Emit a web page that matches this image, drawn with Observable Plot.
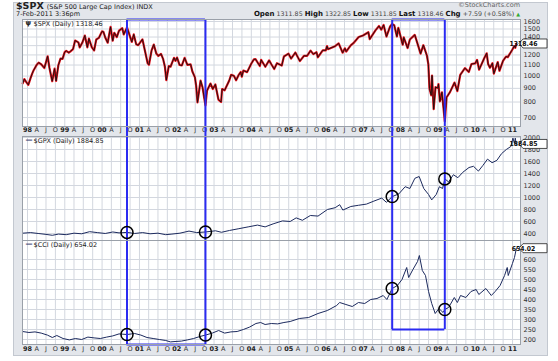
<!DOCTYPE html>
<html><head><meta charset="utf-8">
<script src="https://cdn.jsdelivr.net/npm/d3@7"></script>
<script src="https://cdn.jsdelivr.net/npm/@observablehq/plot@0.6"></script>
<style>
html,body{margin:0;padding:0;background:#fff;}
#wrap{position:relative;width:558px;height:361px;font-family:"DejaVu Sans",Verdana,sans-serif;overflow:hidden;}
#frame{position:absolute;left:13px;top:2px;width:533px;height:352px;background:#e3e6eb;border:1px solid #c3c8d0;}
.txt{position:absolute;white-space:nowrap;color:#222;line-height:1;}
.panel{position:absolute;left:0;}
.panel svg{display:block;overflow:visible;}
</style></head>
<body><div id="wrap"><div id="frame"></div>
<div class="txt" style="left:16px;top:1px;font-size:9.5px;"><b>$SPX</b> <span style="font-size:6.5px">(S&amp;P 500 Large Cap Index) INDX</span></div>
<div class="txt" style="left:16px;top:11px;font-size:6.5px;">7-Feb-2011 3:36pm</div>
<div class="txt" style="right:38px;top:2px;font-size:6.5px;color:#666;">&#169;StockCharts.com</div>
<div class="txt" style="right:38px;top:11px;font-size:6.3px;color:#444;"><b style="color:#111;font-size:7px">Open</b> 1311.85 <b style="color:#111;font-size:7px">High</b> 1322.85 <b style="color:#111;font-size:7px">Low</b> 1311.85 <b style="color:#111;font-size:7px">Last</b> 1318.46 <b style="color:#111;font-size:7px">Chg</b> +7.59 (+0.58%) <span style="color:#3a3;font-size:5px">&#9650;</span></div>
<div class="panel" id="pA" style="top:19px"></div>
<div class="panel" id="pB" style="top:136px"></div>
<div class="panel" id="pC" style="top:240px"></div>
</div>
<script>
const spxDates = ["1997-11-15","1997-12-01","1997-12-20","1998-01-09","1998-01-30","1998-02-15","1998-03-01","1998-03-31","1998-04-20","1998-05-15","1998-06-15","1998-07-17","1998-08-04","1998-08-31","1998-09-23","1998-10-08","1998-10-30","1998-11-20","1998-12-10","1998-12-31","1999-01-15","1999-02-09","1999-02-26","1999-03-23","1999-04-12","1999-05-14","1999-05-27","1999-06-22","1999-07-16","1999-08-10","1999-08-25","1999-09-23","1999-10-15","1999-11-05","1999-11-30","1999-12-31","2000-01-14","2000-02-01","2000-02-25","2000-03-24","2000-04-14","2000-04-30","2000-05-24","2000-06-15","2000-07-17","2000-07-31","2000-09-01","2000-09-25","2000-10-18","2000-11-06","2000-11-30","2000-12-20","2001-01-30","2001-02-22","2001-03-22","2001-04-04","2001-04-30","2001-05-21","2001-06-15","2001-07-05","2001-07-31","2001-08-20","2001-09-07","2001-09-21","2001-10-15","2001-11-01","2001-12-05","2001-12-20","2002-01-04","2002-01-29","2002-02-20","2002-03-19","2002-04-15","2002-05-17","2002-06-03","2002-06-28","2002-07-10","2002-07-23","2002-08-22","2002-09-10","2002-09-30","2002-10-09","2002-10-24","2002-11-27","2002-12-20","2003-01-14","2003-02-13","2003-03-11","2003-03-21","2003-04-15","2003-05-30","2003-06-17","2003-07-14","2003-08-05","2003-08-29","2003-09-19","2003-09-30","2003-10-15","2003-11-21","2003-12-31","2004-01-26","2004-02-11","2004-03-24","2004-04-06","2004-05-17","2004-06-23","2004-07-15","2004-08-12","2004-09-08","2004-10-25","2004-11-15","2004-12-30","2005-01-24","2005-03-07","2005-04-20","2005-05-31","2005-06-30","2005-08-03","2005-08-30","2005-09-30","2005-10-13","2005-11-30","2005-12-30","2006-01-11","2006-01-20","2006-03-31","2006-05-05","2006-06-13","2006-07-05","2006-07-18","2006-08-31","2006-10-02","2006-11-17","2006-12-29","2007-02-20","2007-03-05","2007-04-30","2007-06-04","2007-06-26","2007-07-19","2007-08-16","2007-09-19","2007-10-09","2007-10-31","2007-11-26","2007-12-10","2008-01-22","2008-02-01","2008-03-10","2008-04-01","2008-05-19","2008-06-27","2008-07-15","2008-08-11","2008-09-15","2008-09-29","2008-10-10","2008-10-27","2008-11-04","2008-11-20","2008-12-08","2008-12-31","2009-01-06","2009-01-20","2009-02-09","2009-03-09","2009-03-26","2009-04-30","2009-06-12","2009-07-10","2009-08-07","2009-09-22","2009-10-30","2009-11-25","2009-12-31","2010-01-19","2010-02-08","2010-03-31","2010-04-23","2010-05-07","2010-05-25","2010-06-18","2010-07-02","2010-08-09","2010-08-26","2010-09-30","2010-10-29","2010-11-16","2010-12-31","2011-01-18","2011-01-28","2011-02-07"];
const spxValues = [940,975,950,927,980,1020,1050,1101,1123,1108,1072,1186,1072,957,1066,959,1098,1163,1160,1229,1243,1223,1238,1262,1358,1337,1281,1335,1418,1281,1381,1280,1247,1370,1389,1469,1465,1394,1333,1527,1356,1452,1399,1478,1510,1431,1520,1427,1342,1432,1315,1305,1373,1252,1117,1103,1249,1312,1214,1190,1211,1160,1085,966,1090,1084,1170,1140,1173,1100,1096,1170,1102,1106,1040,989,920,797,962,909,815,777,882,938,895,931,817,800,895,885,963,1011,1003,965,1008,1036,995,1049,1035,1112,1155,1157,1091,1150,1084,1145,1107,1063,1117,1095,1184,1213,1163,1225,1138,1191,1191,1245,1208,1228,1176,1249,1248,1294,1261,1294,1325,1223,1270,1236,1303,1335,1401,1418,1459,1374,1482,1539,1492,1553,1406,1529,1565,1549,1407,1515,1310,1395,1273,1370,1426,1278,1214,1305,1192,1106,899,848,1005,752,909,903,934,805,870,677,832,873,946,879,1010,1071,1036,1110,1115,1150,1057,1169,1217,1110,1074,1117,1022,1128,1047,1141,1183,1178,1258,1295,1276,1318.46];

const gpxDates = ["1997-11-15","1998-02-01","1998-04-15","1998-07-01","1998-09-01","1998-11-01","1999-01-15","1999-04-01","1999-06-15","1999-09-01","1999-11-15","2000-02-01","2000-04-15","2000-06-15","2000-09-01","2000-11-15","2001-02-01","2001-04-15","2001-07-01","2001-09-15","2001-11-15","2002-02-01","2002-05-01","2002-07-15","2002-10-09","2003-01-15","2003-03-15","2003-06-01","2003-09-01","2003-12-01","2004-03-01","2004-05-15","2004-08-01","2004-11-01","2005-01-15","2005-03-15","2005-05-15","2005-08-01","2005-10-15","2006-01-15","2006-04-01","2006-05-15","2006-06-15","2006-09-01","2006-11-15","2007-02-01","2007-04-15","2007-07-01","2007-08-15","2007-10-11","2007-12-15","2008-02-15","2008-04-01","2008-05-20","2008-07-01","2008-08-15","2008-10-01","2008-11-01","2008-12-15","2009-01-15","2009-02-15","2009-03-09","2009-04-15","2009-06-01","2009-07-15","2009-09-01","2009-11-01","2009-12-15","2010-02-01","2010-03-15","2010-05-01","2010-06-15","2010-08-01","2010-09-15","2010-11-01","2010-12-15","2011-01-05","2011-01-20","2011-01-28","2011-02-07"];
const gpxValues = [405,415,400,385,370,390,380,405,395,430,415,400,425,410,418,400,415,395,405,380,390,405,440,415,425,445,420,450,480,510,540,510,560,610,600,660,620,700,690,800,830,880,790,850,870,890,940,990,920,1015,1060,1180,1150,1320,1350,1150,1050,960,1050,1180,1150,1310,1260,1380,1330,1420,1500,1520,1440,1530,1640,1580,1620,1730,1800,1850,1990,1900,1990,1884.85];

const cciDates = ["1997-11-15","1998-01-15","1998-03-15","1998-05-15","1998-07-15","1998-09-01","1998-10-15","1998-12-15","1999-02-15","1999-04-15","1999-06-15","1999-08-15","1999-10-15","1999-12-15","2000-02-15","2000-04-15","2000-06-15","2000-09-01","2000-11-15","2001-01-15","2001-03-15","2001-05-15","2001-07-15","2001-09-15","2001-11-01","2001-12-15","2002-02-15","2002-04-15","2002-06-15","2002-08-15","2002-10-09","2002-12-15","2003-02-15","2003-04-15","2003-06-15","2003-08-15","2003-10-15","2003-12-15","2004-02-15","2004-04-01","2004-05-15","2004-07-15","2004-09-15","2004-11-15","2005-01-15","2005-04-15","2005-07-15","2005-10-15","2006-01-15","2006-04-15","2006-05-15","2006-07-15","2006-09-15","2006-11-15","2007-01-15","2007-03-15","2007-05-15","2007-07-15","2007-08-20","2007-10-11","2007-12-01","2008-01-15","2008-03-01","2008-03-20","2008-05-01","2008-06-15","2008-07-03","2008-08-01","2008-09-01","2008-10-01","2008-11-01","2008-12-05","2009-01-10","2009-02-20","2009-03-09","2009-04-15","2009-06-10","2009-07-10","2009-08-10","2009-10-01","2009-11-20","2010-01-10","2010-02-05","2010-04-15","2010-06-07","2010-07-15","2010-09-01","2010-10-15","2010-11-10","2010-11-20","2010-12-31","2011-01-20","2011-02-07"];
const cciValues = [240,235,238,232,222,210,220,205,198,205,200,212,208,205,212,218,228,225,230,222,210,205,200,195,188,190,192,198,205,215,222,232,245,232,238,240,250,262,280,285,275,280,278,285,290,305,310,330,345,370,385,375,365,385,380,400,405,420,400,455,470,500,560,510,550,590,620,545,520,440,380,330,355,335,350,360,410,385,420,410,440,450,425,455,420,440,470,520,560,520,580,610,654.02];

const yearLabels = ["98","99","00","01","02","03","04","05","06","07","08","09","10","11"];
const monthLabels = ["A","J","O"];
const spxGridTicks = [700,800,900,1000,1100,1200,1300,1400,1500,1600];
const spxTicks = [700,800,900,1000,1100,1200,1400,1500,1600];
const gpxTicks = [400,600,800,1000,1200,1400,1600,1800,2000];
const cciTicks = [200,250,300,350,400,450,500,550,600];
const boxDates = ["2000-09-01","2002-10-09","2007-10-11","2009-03-09"];
const gpxCircleValues = [418,425,1015,1310];
const cciCircleValues = [225,222,455,350];
const rect2BottomCCI = 250;

const P = s => new Date(s);
const spx = spxDates.map((d,i)=>({date:P(d), value:spxValues[i]}));
const gpx = gpxDates.map((d,i)=>({date:P(d), value:gpxValues[i]}));
const cci = cciDates.map((d,i)=>({date:P(d), value:cciValues[i]}));
const years = yearLabels.map((l,i)=>({date:new Date(Date.UTC(1998+i,0,1)), label:l}));
const months = [];
for (let i=0;i<13;i++) monthLabels.forEach((m,j)=>months.push({date:new Date(Date.UTC(1998+i,3+3*j,1)), label:m}));
const quarters = years.concat(months).map(d=>d.date);
const bd = boxDates.map(P);
const gpxCircles = bd.map((d,i)=>({date:d, value:gpxCircleValues[i]}));
const cciCircles = bd.map((d,i)=>({date:d, value:cciCircleValues[i]}));

const BLUE = "#2b2bf2", GRID = "#d3d7df", FRAME = "#9aa0a9";
const FONT = "DejaVu Sans, Verdana, sans-serif";
const xDomain = [new Date(Date.UTC(1997,10,13)), new Date(Date.UTC(2011,2,20))];
const base = {width:558, marginLeft:22, marginRight:38,
  x:{type:"utc", domain:xDomain, axis:null},
  style:{fontFamily:FONT, background:"transparent", overflow:"visible"}};

function common(gridTicks, labelTicks){
  return [
    Plot.frame({fill:"white", stroke:"none"}),
    Plot.gridX(quarters, {stroke:GRID, strokeOpacity:1}),
    Plot.gridY(gridTicks, {stroke:GRID, strokeOpacity:1}),
    Plot.text(labelTicks, {y:d=>d, text:d=>String(d), frameAnchor:"right", dx:3, textAnchor:"start", fontSize:6.5, fill:"#333"})
  ];
}
function dateLabels(dy){
  return [
    Plot.text(years, {x:"date", text:"label", frameAnchor:"bottom", dy, fontWeight:"bold", fontSize:6.5, fill:"#222"}),
    Plot.text(months, {x:"date", text:"label", frameAnchor:"bottom", dy, fontSize:6.5, fill:"#333"})
  ];
}
function legend(label, dash, color){
  const m = [Plot.text([label], {frameAnchor:"top-left", dx:11, dy:2, textAnchor:"start", lineAnchor:"top", fontSize:6.5, fill:"#222"})];
  m.push(Plot.text([dash], {frameAnchor:"top-left", dx:3, dy:1, textAnchor:"start", lineAnchor:"top", fontSize:7, fill:color, fontWeight:"bold"}));
  return m;
}
function valueBox(chart, value, label){
  const y = chart.scale("y").apply(value);
  const x = 520;
  const g = d3.select(chart).append("g");
  g.append("path").attr("d", `M${x-1},${y} L${x+3},${y-4.5} L${x+27},${y-4.5} L${x+27},${y+4.5} L${x+3},${y+4.5} Z`)
    .attr("fill","white").attr("stroke","#222").attr("stroke-width",0.8);
  g.append("text").attr("x", x+3.5).attr("y", y).attr("dy","0.35em")
    .attr("font-size",6.8).attr("font-family","DejaVu Sans Condensed, DejaVu Sans, sans-serif").attr("font-weight","bold").attr("fill","#111").text(label);
}

// Panel A: SPX
const spxDom = [648,1628];
const chartA = Plot.plot({...base, height:117, marginTop:0, marginBottom:10,
  y:{type:"log", domain:spxDom, axis:null},
  marks:[
    ...common(spxGridTicks, spxTicks),
    ...dateLabels(5),
    Plot.line(spx, {x:"date", y:"value", stroke:"#e8101a", strokeWidth:2.2}),
    Plot.line(spx, {x:"date", y:"value", stroke:"#111", strokeWidth:0.9}),
    Plot.ruleX(bd, {stroke:BLUE, strokeWidth:2, insetBottom:-10}),
    Plot.ruleY([{y:spxDom[1], x1:bd[0], x2:bd[1]},{y:spxDom[1], x1:bd[2], x2:bd[3]}], {y:"y", x1:"x1", x2:"x2", stroke:BLUE, strokeWidth:2}),
    ...legend("$SPX (Daily) 1318.46", "\u03C8", "#222"),
    Plot.frame({stroke:FRAME})
  ]});
valueBox(chartA, spxValues[spxValues.length-1], "1318.46");
document.getElementById("pA").append(chartA);

// Panel B: GPX
const gpxDom = [283,2017];
const chartB = Plot.plot({...base, height:104, marginTop:0, marginBottom:0,
  y:{domain:gpxDom, axis:null},
  marks:[
    ...common(gpxTicks, gpxTicks),
    Plot.line(gpx, {x:"date", y:"value", stroke:"#1c2a5e", strokeWidth:1}),
    Plot.ruleX(bd, {stroke:BLUE, strokeWidth:2}),
    Plot.dot(gpxCircles, {x:"date", y:"value", r:6, stroke:"#000", strokeWidth:1.5, fill:"none"}),
    ...legend("$GPX (Daily) 1884.85", "\u2014", "#1c2a5e"),
    Plot.frame({stroke:FRAME})
  ]});
valueBox(chartB, gpxValues[gpxValues.length-1], "1884.85");
document.getElementById("pB").append(chartB);

// Panel C: CCI
const cciDom = [175,695];
const chartC = Plot.plot({...base, height:117, marginTop:0, marginBottom:13,
  y:{domain:cciDom, axis:null},
  marks:[
    ...common(cciTicks, cciTicks),
    ...dateLabels(6),
    Plot.line(cci, {x:"date", y:"value", stroke:"#1c2a5e", strokeWidth:1}),
    Plot.ruleX(bd.slice(0,2), {stroke:BLUE, strokeWidth:2}),
    Plot.ruleX(bd.slice(2), {y1:rect2BottomCCI, y2:cciDom[1], stroke:BLUE, strokeWidth:2}),
    Plot.ruleY([{y:cciDom[0], x1:bd[0], x2:bd[1]},{y:rect2BottomCCI, x1:bd[2], x2:bd[3]}], {y:"y", x1:"x1", x2:"x2", stroke:BLUE, strokeWidth:2}),
    Plot.dot(cciCircles, {x:"date", y:"value", r:6, stroke:"#000", strokeWidth:1.5, fill:"none"}),
    ...legend("$CCI (Daily) 654.02", "\u2014", "#1c2a5e"),
    Plot.frame({stroke:FRAME})
  ]});
valueBox(chartC, cciValues[cciValues.length-1], "654.02");
document.getElementById("pC").append(chartC);
</script>
</body></html>
